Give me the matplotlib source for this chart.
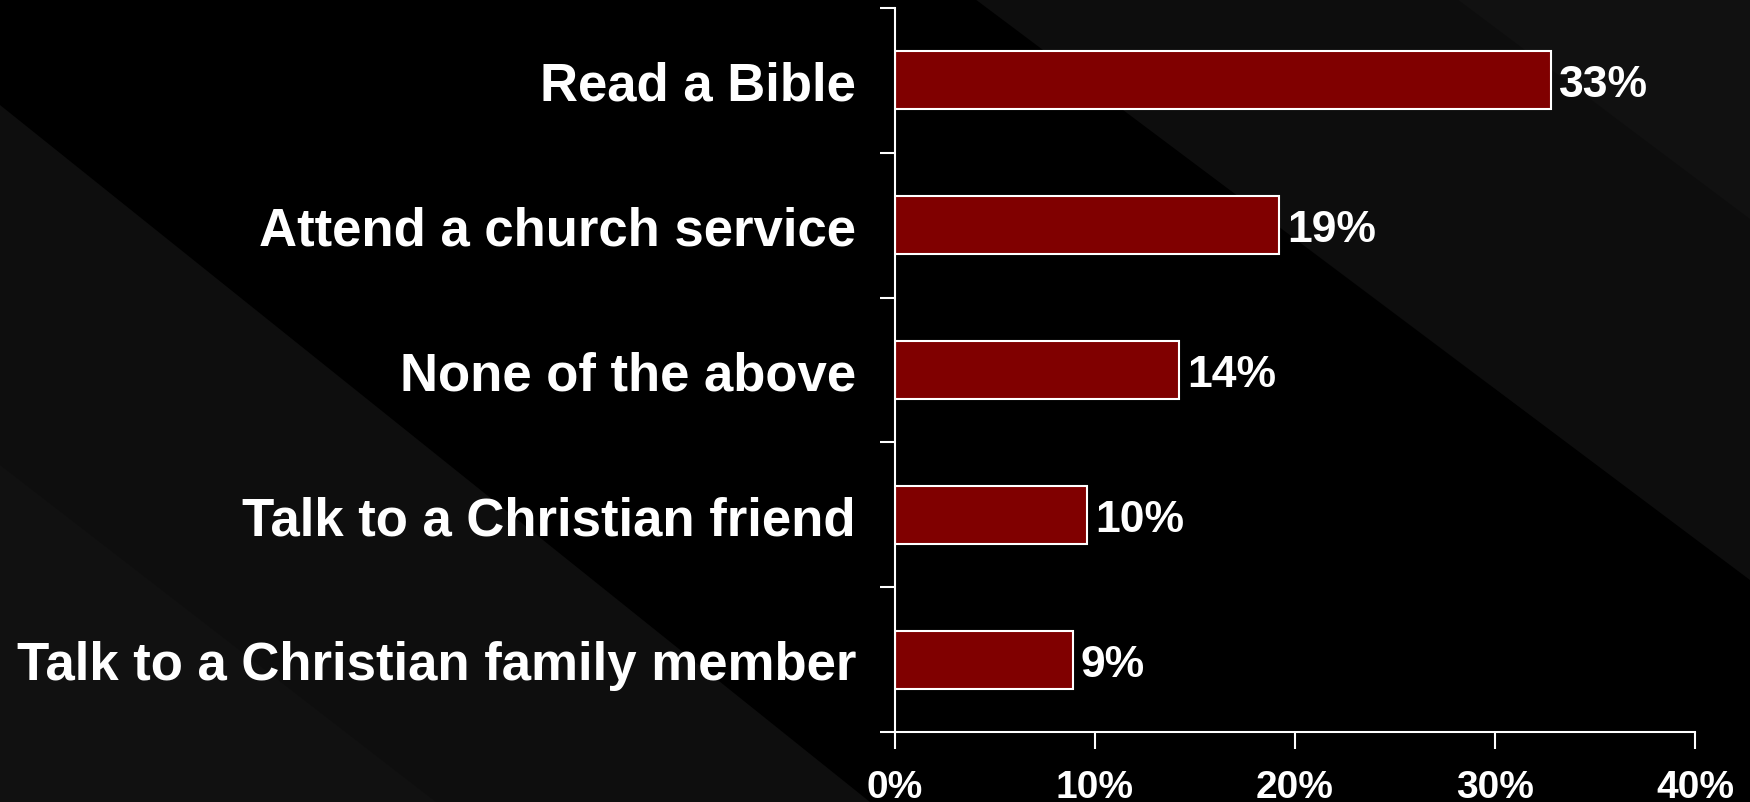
import numpy as np
import matplotlib
matplotlib.use('Agg')
import matplotlib.pyplot as plt
from matplotlib.patches import Polygon

categories = ['Read a Bible', 'Attend a church service', 'None of the above',
              'Talk to a Christian friend', 'Talk to a Christian family member']
values = [32.8, 19.2, 14.2, 9.6, 8.9]
value_labels = ['33%', '19%', '14%', '10%', '9%']
xticks = [0, 10, 20, 30, 40]
xtick_labels = ['0%', '10%', '20%', '30%', '40%']

plt.rcParams['font.family'] = ['Liberation Sans', 'DejaVu Sans']
plt.rcParams['font.weight'] = 'bold'

W, H = 1750, 803
fig = plt.figure(figsize=(W / 100, H / 100), dpi=100)
fig.patch.set_facecolor('black')

# background with diagonal bands (pixel coords)
bg = fig.add_axes([0, 0, 1, 1], zorder=-10)
bg.set_xlim(0, W)
bg.set_ylim(H, 0)
bg.axis('off')
bg.set_facecolor('black')
bg.add_patch(Polygon([(0, 106), (0, H), (870, H)], closed=True, color='#0e0e0e', lw=0))
bg.add_patch(Polygon([(0, 466), (0, H), (436, H)], closed=True, color='#111111', lw=0))
bg.add_patch(Polygon([(975, 0), (W, 0), (W, 0.75 * (W - 975))], closed=True, color='#0d0d0d', lw=0))
bg.add_patch(Polygon([(1457, 0), (W, 0), (W, 0.75 * (W - 1457))], closed=True, color='#111111', lw=0))

ax = fig.add_axes([895 / W, 1 - 733 / H, 800 / W, (733 - 9) / H])
ax.set_facecolor('none')
y = np.arange(len(categories))
bars = ax.barh(y, values, height=0.4, color='#800000', edgecolor='white', linewidth=1.5)
for b, lab in zip(bars, value_labels):
    ax.text(b.get_width() + 0.4, b.get_y() + b.get_height() / 2, lab, color='white',
            fontsize=32, fontweight='bold', va='center_baseline', ha='left')

ax.set_xlim(0, 40)
ax.set_ylim(len(categories) - 0.5, -0.5)
ax.set_yticks(y)
ax.set_yticklabels(categories, fontsize=38, color='white', fontweight='bold')
ax.set_yticks(np.arange(-0.5, len(categories)), minor=True)
ax.tick_params(axis='y', which='major', length=0, pad=28)
ax.tick_params(axis='y', which='minor', length=11, width=1.5, color='white', direction='out')
ax.set_xticks(xticks)
ax.set_xticklabels(xtick_labels, fontsize=28, color='white', fontweight='bold')
ax.tick_params(axis='x', length=12, width=1.5, color='white', direction='out', pad=15)

for s in ['top', 'right']:
    ax.spines[s].set_visible(False)
for s in ['left', 'bottom']:
    ax.spines[s].set_color('white')
    ax.spines[s].set_linewidth(1.5)

fig.savefig('out.png', dpi=100, facecolor='black')
